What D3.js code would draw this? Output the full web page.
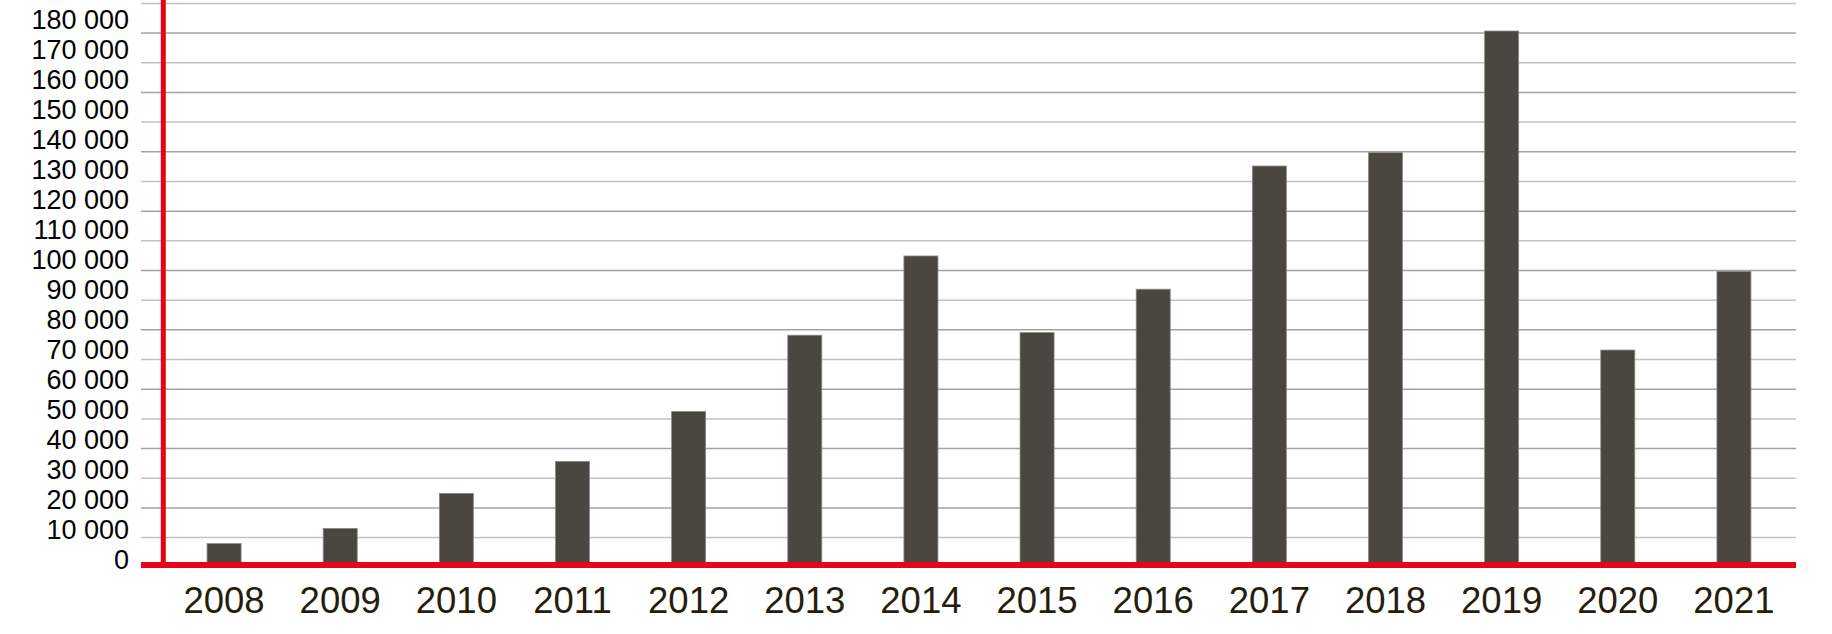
<!DOCTYPE html>
<html>
<head>
<meta charset="utf-8">
<script src="https://cdn.jsdelivr.net/npm/d3@7"></script>
<style>
  html, body { margin: 0; padding: 0; background: #fff; }
  svg { display: block; }
</style>
</head>
<body>
<svg id="chart" width="1832" height="634"></svg>
<script>
const years = ["2008","2009","2010","2011","2012","2013","2014","2015","2016","2017","2018","2019","2020","2021"];
const values = [8000, 13100, 24900, 35700, 52500, 78200, 104900, 79100, 93700, 135200, 139700, 180700, 73200, 99700];
const yTicks = [0,10000,20000,30000,40000,50000,60000,70000,80000,90000,100000,110000,120000,130000,140000,150000,160000,170000,180000];
const gridValues = [10000,20000,30000,40000,50000,60000,70000,80000,90000,100000,110000,120000,130000,140000,150000,160000,170000,180000,190000];

const svg = d3.select("#chart");
const fmt = v => d3.format(",")(v).replace(/,/g, " ");

const x = d3.scaleBand().domain(years).range([166, 1792]).paddingInner(0.707).paddingOuter(0.3535);
const y = d3.scaleLinear().domain([0, 190000]).range([567.3, 3.4]);
// tick labels sit slightly above their gridlines in the reference
const yLabel = d3.scaleLinear().domain([0, 180000]).range([560, 20]);

// gridlines
svg.append("g").selectAll("line").data(gridValues).join("line")
  .attr("x1", 141).attr("x2", 1796)
  .attr("y1", d => y(d)).attr("y2", d => y(d))
  .attr("stroke", (d, i) => i % 2 ? "#a3a3a3" : "#c2c2c2")
  .attr("stroke-width", 1.5);

// bars
svg.append("g").selectAll("rect").data(values).join("rect")
  .attr("x", (d, i) => x(years[i]))
  .attr("width", x.bandwidth())
  .attr("y", d => y(d))
  .attr("height", d => y(0) - y(d))
  .attr("fill", "#4a4740")
  .attr("stroke", "#8a8a86")
  .attr("stroke-width", 0.8);

// y tick labels
svg.append("g").selectAll("text").data(yTicks).join("text")
  .attr("x", 129).attr("y", d => yLabel(d))
  .attr("text-anchor", "end")
  .attr("dominant-baseline", "central")
  .attr("font-family", "Liberation Sans, Arial, sans-serif")
  .attr("font-size", 27)
  .attr("fill", "#000")
  .text(d => fmt(d));

// red axes
svg.append("line")
  .attr("x1", 163.3).attr("x2", 163.3).attr("y1", 0).attr("y2", 568)
  .attr("stroke", "#e60517").attr("stroke-width", 5);
svg.append("line")
  .attr("x1", 141).attr("x2", 1796).attr("y1", 565).attr("y2", 565)
  .attr("stroke", "#e60517").attr("stroke-width", 6);

// x labels
svg.append("g").selectAll("text").data(years).join("text")
  .attr("x", d => x(d) + x.bandwidth() / 2)
  .attr("y", 613)
  .attr("text-anchor", "middle")
  .attr("font-family", "Liberation Sans, Arial, sans-serif")
  .attr("font-size", 36.5)
  .attr("fill", "#261d0d")
  .text(d => d);
</script>
</body>
</html>
